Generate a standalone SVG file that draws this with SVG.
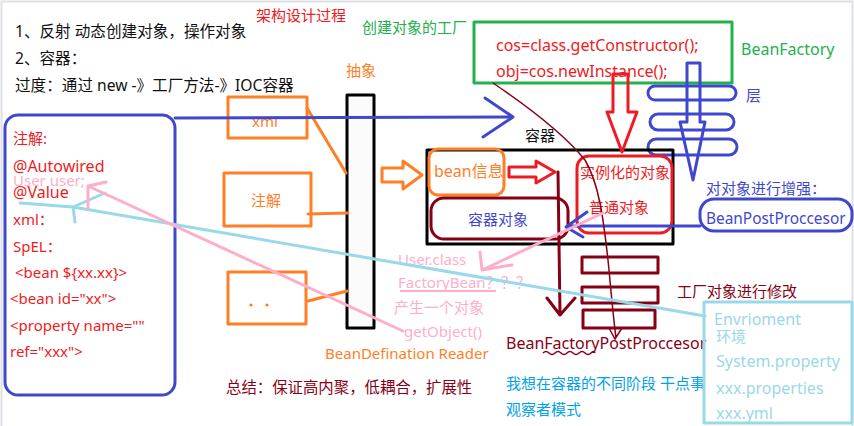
<svg xmlns="http://www.w3.org/2000/svg" width="854" height="426" viewBox="0 0 854 426">
<style>
text{font-family:"Noto Sans","Noto Sans CJK SC",sans-serif;font-size:15px}
.k{fill:#111}
.r{fill:#ed1c24}
.o{fill:#ff7f27}
.g{fill:#22b14c}
.b{fill:#3f48cc}
.m{fill:#880015}
.lb{fill:#99d9ea}
.pk{fill:#ffaec9}
.cy{fill:#00a2e8}
.s{fill:none;stroke-width:3;stroke-linejoin:round;stroke-linecap:round}
.sb{stroke:#3f48cc}.so{stroke:#ff7f27}.sr{stroke:#ed1c24}.sg{stroke:#22b14c}.sm{stroke:#880015}.sk{stroke:#000}.slb{stroke:#99d9ea}.spk{stroke:#ffaec9}
</style>
<rect x="0" y="0" width="854" height="426" fill="#fff"/>
<rect x="1.5" y="1.5" width="851" height="430" fill="none" stroke="#dde1e6" stroke-width="2"/>

<g id="notes">
<text x="256" y="21" class="r">架构设计过程</text>
<text x="15" y="37" class="k" style="font-size:15.6px">1、反射 动态创建对象，操作对象</text>
<text x="15" y="64" class="k" style="font-size:15.6px">2、容器：</text>
<text x="15" y="91" class="k" style="font-size:15.6px">过度：通过 new -》工厂方法-》IOC容器</text>
<text x="362" y="33" class="g">创建对象的工厂</text>
<text x="346" y="76" class="o">抽象</text>
<text x="226" y="393" class="m" style="font-size:15.4px">总结：保证高内聚，低耦合，扩展性</text>
<text x="506" y="389" class="cy">我想在容器的不同阶段 干点事</text>
<text x="506" y="415" class="cy">观察者模式</text>
</g>

<g id="annotation-list">
<rect x="5" y="115" width="170" height="280" rx="13" class="s sb"/>
<text x="13" y="144" class="r">注解:</text>
<text x="13" y="172" class="r" style="font-size:16px">@Autowired</text>
<text x="13" y="186" class="pk">User user;</text>
<text x="13" y="198" class="r" style="font-size:16px">@Value</text>
<text x="13" y="225" class="r">xml：</text>
<text x="13" y="252" class="r">SpEL：</text>
<text x="15" y="278" class="r"> &lt;bean ${xx.xx}&gt;</text>
<text x="10" y="304" class="r">&lt;bean id="xx"&gt;</text>
<text x="10" y="331" class="r">&lt;property name=""</text>
<text x="10" y="357" class="r">ref="xxx"&gt;</text>
</g>

<g id="xml-source">
<rect x="228" y="97" width="79" height="41" class="s so"/>
<text x="265" y="127" class="o" text-anchor="middle">xml</text>
</g>
<g id="annotation-source">
<rect x="224" y="173" width="87" height="53" class="s so"/>
<text x="266" y="206" class="o" text-anchor="middle">注解</text>
</g>
<g id="other-source">
<rect x="228" y="272" width="78" height="52" class="s so"/>
<circle cx="251" cy="305" r="1.6" fill="#ff7f27"/>
<circle cx="267" cy="305" r="1.6" fill="#ff7f27"/>
</g>

<g id="reader-bar">
<rect x="347" y="95" width="27" height="233" class="s sk" style="fill:#fbfbfb"/>
<text x="325" y="359" class="o">BeanDefination Reader</text>
</g>

<g id="factory">
<rect x="474" y="22" width="258" height="61" class="s sg"/>
<text x="496" y="51" class="r" style="font-size:16px">cos=class.getConstructor();</text>
<text x="496" y="77" class="r" style="font-size:16px">obj=cos.newInstance();</text>
<text x="741" y="55" class="g" style="font-size:16px">BeanFactory</text>
</g>

<g id="layers">
<path d="M687,63 L700,63 L700,122 L705,122 L693,180 L680,122 L687,122 Z" class="s sb"/>
<rect x="648" y="86" width="88" height="14" rx="7" class="s sb"/>
<rect x="650" y="114" width="84" height="16" rx="8" class="s sb"/>
<rect x="648" y="139" width="89" height="16" rx="8" class="s sb"/>
<text x="746" y="101" class="b">层</text>
</g>

<g id="container">
<text x="525" y="141" class="k">容器</text>
<rect x="427" y="150" width="246" height="94" class="s sk"/>
</g>
<g id="bean-info">
<rect x="429" y="149" width="75" height="46" rx="9" class="s so"/>
<text x="434" y="177" class="o" style="font-size:16px">bean信息</text>
</g>
<g id="instances">
<rect x="577" y="156" width="95" height="77" rx="12" class="s sr"/>
<text x="580" y="178" class="r">实例化的对象</text>
<text x="589" y="213" class="r">普通对象</text>
</g>
<g id="container-object">
<rect x="431" y="198" width="137" height="41" rx="13" class="s sm"/>
<text x="468" y="225" class="b">容器对象</text>
</g>

<g id="bean-post-processor">
<text x="706" y="194" class="b">对对象进行增强：</text>
<rect x="700" y="199" width="152" height="32" rx="14" class="s sb"/>
<text x="706" y="224" class="b" style="font-size:15.4px">BeanPostProccesor</text>
</g>

<g id="bean-factory-post-processor">
<rect x="582" y="257" width="76" height="16" class="s sm"/>
<rect x="582" y="287" width="76" height="16" class="s sm"/>
<rect x="583" y="310" width="72" height="18" class="s sm"/>
<text x="677" y="297" class="m">工厂对象进行修改</text>
<text x="506" y="349" class="m" style="font-size:16px">BeanFactoryPostProccesor</text>
<path d="M543,353 q3,-3 6,0 t6,0 t6,0 t6,0 t6,0 t6,0 t6,0 t6,0 t4,0" fill="none" stroke="#880015" stroke-width="1.5"/>
</g>

<g id="environment">
<rect x="704" y="302" width="148" height="121" class="s slb"/>
<text x="714" y="325" class="lb" style="font-size:16px">Envrioment</text>
<text x="716" y="342" class="lb">环境</text>
<text x="716" y="367" class="lb" style="font-size:16px">System.property</text>
<text x="716" y="394" class="lb" style="font-size:16px">xxx.properties</text>
<text x="716" y="419" class="lb" style="font-size:16px">xxx.yml</text>
</g>

<g id="factory-bean-note">
<text x="398" y="265" class="pk">User.class</text>
<text x="398" y="288" class="pk">FactoryBean？？？</text>
<path d="M400,291 L496,291" fill="none" stroke="#ffaec9" stroke-width="2"/>
<text x="394" y="313" class="pk">产生一个对象</text>
<text x="404" y="337" class="pk">getObject()</text>
</g>

<g id="connectors">
<path d="M307,108 L346,173" class="s so"/>
<path d="M308,214 L348,213" class="s so"/>
<path d="M308,301 L347,291" class="s so"/>
<path d="M382,168 L403,168 L403,161 L422,175 L403,189 L403,182 L382,182 Z" class="s so"/>
<path d="M509,167 L536,167 L536,161 L555,172 L536,183 L536,177 L509,177 Z" class="s sr"/>
<path d="M613,74 L628,74 L628,112 L637,112 L622,152 L607,112 L613,112 Z" class="s sr"/>
<path d="M175,118 L513,117 M485,98 L513,117 L483,137" class="s sb"/>
<path d="M700,226 L568,226 M587,212 L566,227 L583,237" class="s sb"/>
<path d="M558,172 L560,314 M547,298 L560,315 L575,298" class="s sm"/>
<path d="M493,83 C530,108 565,135 585,160 C600,185 604,225 608,260 C611,290 613,315 616,338 M609,328 L615,339 L622,328" fill="none" stroke="#880015" stroke-width="1.5"/>
<path d="M20,203 L73,207 L705,316 M105,193 L73,207 L75,222" class="s slb"/>
<path d="M403,331 L88,186 L88,208 M88,186 L106,182" class="s spk"/>
<path d="M603,213 L482,270 L480,252 M482,270 L512,265" class="s spk"/>
</g>
</svg>
